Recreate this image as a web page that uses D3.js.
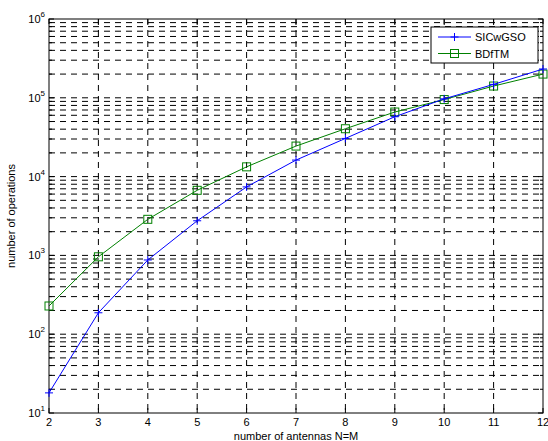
<!DOCTYPE html>
<html>
<head>
<meta charset="utf-8">
<script src="https://cdn.jsdelivr.net/npm/d3@7"></script>
<style>
  body { margin: 0; background: #fff; }
  svg { display: block; font-family: "Liberation Sans", Arial, Helvetica, sans-serif; }
</style>
</head>
<body>
<svg id="chart"></svg>
<script>
// data
const antennas = [2, 3, 4, 5, 6, 7, 8, 9, 10, 11, 12];
const sicwgso = [18, 187, 875, 2750, 7400, 16200, 30500, 57500, 97000, 148000, 232000];
const bdftm = [228, 960, 2870, 6700, 13300, 24400, 40500, 66000, 95000, 141000, 200000];
const xTicks = [2, 3, 4, 5, 6, 7, 8, 9, 10, 11, 12];
const yDecades = [1, 2, 3, 4, 5, 6];
const seriesNames = ["SICwGSO", "BDfTM"];

const W = 548, H = 441;
const margin = { top: 19, right: 5, bottom: 28, left: 49 },
      width = W - margin.left - margin.right,
      height = H - margin.top - margin.bottom;

const svg = d3.select("#chart").attr("width", W).attr("height", H);
const g = svg.append("g").attr("transform", `translate(${margin.left},${margin.top})`);

const x = d3.scaleLinear().domain([2, 12]).range([0, width]);
const y = d3.scaleLog().domain([10, 1e6]).range([height, 0]);

// minor values 2..9 per decade
const minor = [];
yDecades.slice(0, -1).forEach(e => {
    for (let k = 2; k <= 9; k++) minor.push(k * Math.pow(10, e));
});
const major = yDecades.map(e => Math.pow(10, e));

const dash = "6,5";

// horizontal grid
g.selectAll(".hgrid")
    .data(minor.concat(major.slice(1, -1)))
    .enter().append("line")
    .attr("x1", 0).attr("x2", width)
    .attr("y1", d => y(d)).attr("y2", d => y(d))
    .attr("stroke", "#000")
    .attr("stroke-width", 1)
    .attr("stroke-dasharray", dash);

// vertical grid
g.selectAll(".vgrid")
    .data(xTicks.slice(1, -1))
    .enter().append("line")
    .attr("x1", d => x(d)).attr("x2", d => x(d))
    .attr("y1", 0).attr("y2", height)
    .attr("stroke", "#000")
    .attr("stroke-width", 1)
    .attr("stroke-dasharray", dash);

// inward ticks on all four sides
const tickG = g.append("g").attr("stroke", "#000").attr("stroke-width", 1);
xTicks.forEach(t => {
    tickG.append("line").attr("x1", x(t)).attr("x2", x(t)).attr("y1", height).attr("y2", height - 5);
    tickG.append("line").attr("x1", x(t)).attr("x2", x(t)).attr("y1", 0).attr("y2", 5);
});
major.forEach(t => {
    tickG.append("line").attr("x1", 0).attr("x2", 5).attr("y1", y(t)).attr("y2", y(t));
    tickG.append("line").attr("x1", width).attr("x2", width - 5).attr("y1", y(t)).attr("y2", y(t));
});
minor.forEach(t => {
    tickG.append("line").attr("x1", 0).attr("x2", 3).attr("y1", y(t)).attr("y2", y(t));
    tickG.append("line").attr("x1", width).attr("x2", width - 3).attr("y1", y(t)).attr("y2", y(t));
});

// frame
g.append("rect")
    .attr("width", width).attr("height", height)
    .attr("fill", "none").attr("stroke", "#000").attr("stroke-width", 1);

// x tick labels
g.selectAll(".xlab")
    .data(xTicks)
    .enter().append("text")
    .attr("x", d => x(d))
    .attr("y", height + 13)
    .attr("text-anchor", "middle")
    .style("font-size", "11px")
    .text(d => d);

// y tick labels 10^n
const yl = g.selectAll(".ylab")
    .data(yDecades)
    .enter().append("text")
    .attr("x", -4)
    .attr("y", d => y(Math.pow(10, d)) + 4)
    .attr("text-anchor", "end")
    .style("font-size", "11px");
yl.append("tspan").text("10");
yl.append("tspan").attr("dy", -6).style("font-size", "8px").text(d => d);

// axis titles
g.append("text")
    .attr("x", width / 2)
    .attr("y", height + 27)
    .attr("text-anchor", "middle")
    .style("font-size", "11px")
    .text("number of antennas N=M");

g.append("text")
    .attr("transform", `translate(${-34},${height / 2}) rotate(-90)`)
    .attr("text-anchor", "middle")
    .style("font-size", "11px")
    .text("number of operations");

// series
const line = d3.line().x((d, i) => x(antennas[i])).y(d => y(d));

g.append("path").datum(bdftm)
    .attr("d", line).attr("fill", "none")
    .attr("stroke", "#008000").attr("stroke-width", 1);
g.selectAll(".sq")
    .data(bdftm)
    .enter().append("rect")
    .attr("x", (d, i) => x(antennas[i]) - 4)
    .attr("y", d => y(d) - 4)
    .attr("width", 8).attr("height", 8)
    .attr("fill", "none").attr("stroke", "#008000").attr("stroke-width", 1);

g.append("path").datum(sicwgso)
    .attr("d", line).attr("fill", "none")
    .attr("stroke", "#0000ff").attr("stroke-width", 1);
g.selectAll(".pl")
    .data(sicwgso)
    .enter().append("path")
    .attr("transform", (d, i) => `translate(${x(antennas[i])},${y(d)})`)
    .attr("d", "M-4,0H4M0,-4V4")
    .attr("fill", "none").attr("stroke", "#0000ff").attr("stroke-width", 1);

// legend
const lg = g.append("g").attr("transform", `translate(${431 - margin.left},${27 - margin.top})`);
lg.append("rect")
    .attr("width", 107).attr("height", 36)
    .attr("fill", "#fff").attr("stroke", "#000").attr("stroke-width", 1);

const colors = ["#0000ff", "#008000"];
seriesNames.forEach((name, i) => {
    const yy = 10 + i * 16.5;
    lg.append("line").attr("x1", 7).attr("x2", 40).attr("y1", yy).attr("y2", yy)
        .attr("stroke", colors[i]).attr("stroke-width", 1);
    if (i === 0) {
        lg.append("path").attr("transform", `translate(23.5,${yy})`)
            .attr("d", "M-4,0H4M0,-4V4").attr("fill", "none").attr("stroke", colors[i]);
    } else {
        lg.append("rect").attr("x", 19.5).attr("y", yy - 4).attr("width", 8).attr("height", 8)
            .attr("fill", "none").attr("stroke", colors[i]);
    }
    lg.append("text").attr("x", 44).attr("y", yy + 4)
        .style("font-size", "11px").text(name);
});
</script>
</body>
</html>
